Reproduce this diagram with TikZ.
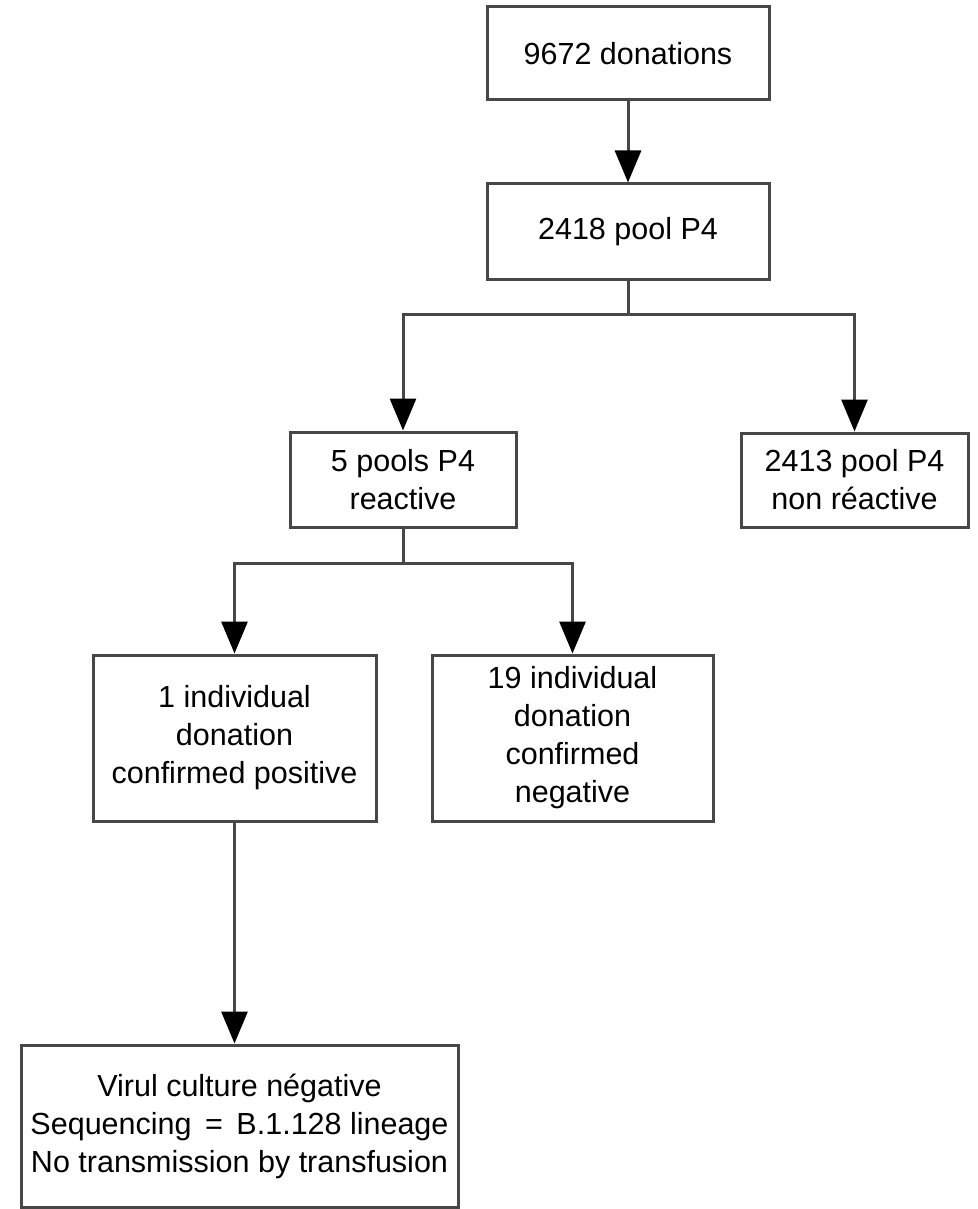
\documentclass[tikz,border=0pt]{standalone}
\usepackage{fontspec}
\setmainfont{Liberation Sans}
\usepackage{tikz}
\usetikzlibrary{arrows.meta, positioning, calc}
\usepackage{xcolor}

\begin{document}
\begin{tikzpicture}[
    x=1pt, y=-1pt,
    box/.style={rectangle, draw=black!72, line width=3pt, fill=white, align=center, inner sep=0pt, font=\fontsize{30.5}{38}\selectfont},
    arrow/.style={-{Triangle[length=32pt, width=26pt, color=black]}, line width=3pt, draw=black!72},
    link/.style={line width=3pt, draw=black!72},
]
\useasboundingbox (0,0) rectangle (977,1209);

% Nodes
\node [box, minimum width=282pt, minimum height=93pt] (donations) at (628,53.5) {9672 donations};
\node [box, minimum width=282pt, minimum height=95pt] (pool) at (628,231.5) {2418 pool P4};
\node [box, minimum width=226pt, minimum height=95pt] (reactive) at (403,479.5) {5 pools P4\\reactive};
\node [box, minimum width=227pt, minimum height=94pt] (nonreactive) at (854.5,480) {2413 pool P4\\non r\'eactive};
\node [box, minimum width=283pt, minimum height=166pt] (positive) at (234.5,738) {1 individual\\donation\\confirmed positive};
\node [box, minimum width=281pt, minimum height=166pt] (negative) at (572.5,738) {19 individual\\donation\\confirmed\\negative};
\node [box, minimum width=437pt, minimum height=162pt] (culture) at (239.5,1126) {Virul culture n\'egative\\Sequencing \,=\, B.1.128 lineage\\No transmission by transfusion};

% Arcs/Paths
\draw [arrow] (donations) -- (pool);
\draw [link] (pool.south) -- ++(0,34) coordinate (split1);
\draw [arrow] (split1) -| (reactive.north);
\draw [arrow] (split1) -| (nonreactive.north);
\draw [link] (reactive.south) -- ++(0,35) coordinate (split2);
\draw [arrow] (split2) -| (positive.north);
\draw [arrow] (split2) -| (negative.north);
\draw [arrow] (positive.south) -- (positive.south |- culture.north);

\end{tikzpicture}
\end{document}
